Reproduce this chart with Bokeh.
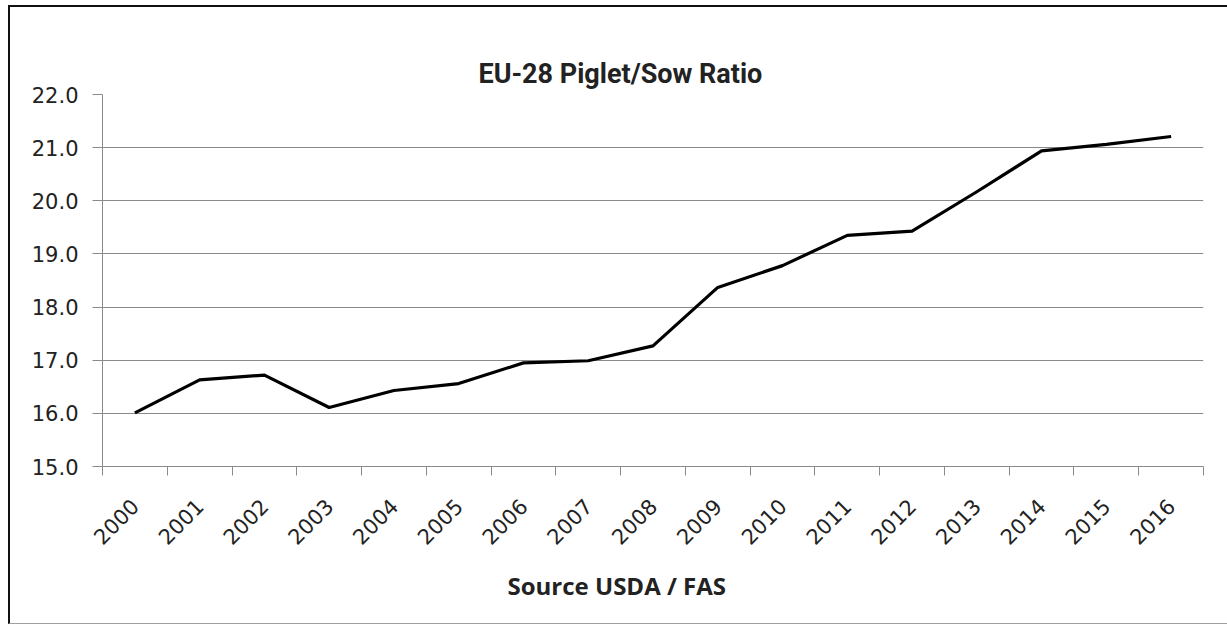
import math
from bokeh.plotting import figure
from bokeh.models import (Range1d, FixedTicker, NumeralTickFormatter, ColumnDataSource,
                          Title, LinearAxis)
from bokeh.embed import file_html
from bokeh.resources import INLINE

# ---- data ----
years = ["2000", "2001", "2002", "2003", "2004", "2005", "2006", "2007", "2008",
         "2009", "2010", "2011", "2012", "2013", "2014", "2015", "2016"]
ratio = [16.01, 16.63, 16.72, 16.11, 16.43, 16.56, 16.95, 16.99, 17.27,
         18.37, 18.78, 19.35, 19.43, 20.17, 20.94, 21.06, 21.21]
y_ticks = [15, 16, 17, 18, 19, 20, 21, 22]
title_text = "EU-28  Piglet/Sow Ratio"
x_title = "Source USDA / FAS"

# category positions (centres) and boundaries in index units
centers = [i + 0.5 for i in range(len(years))]
bounds = [float(i) for i in range(len(years) + 1)]

src = ColumnDataSource(data=dict(x=centers, y=ratio, year=years))

W, H = 1219, 619
p = figure(width=W, height=H, output_backend="svg", toolbar_location=None,
           x_range=Range1d(0, len(years)), y_range=Range1d(15, 22),
           min_border_left=92, min_border_right=26, min_border_top=87,
           min_border_bottom=160, title=None)
p.margin = (5, 0, 0, 8)
p.styles = {"border-left": "2px solid #111111", "border-top": "2px solid #111111",
            "border-bottom": "1px solid #a0a0a0"}
p.background_fill_color = "white"
p.border_fill_color = "white"
p.outline_line_color = None

grey = "#8a8a8a"

# keep references to the real axes before anything else is added
xa = p.below[0]
ya = p.left[0]

# invisible, tick-less axis next to the frame: a spacer that lifts the title
spacer = LinearAxis(ticker=FixedTicker(ticks=[]), axis_line_color=None,
                    major_tick_line_color=None, minor_tick_line_color=None,
                    major_tick_out=29, major_tick_in=0, minor_tick_out=0,
                    minor_tick_in=0, major_label_standoff=0)
p.add_layout(spacer, "above")

# chart title, centred on the whole chart
t = Title(text=title_text, align="left", offset=376, standoff=10,
          text_font="Roboto", text_font_style="bold", text_font_size="27px",
          text_color="#222222")
p.add_layout(t, "above")

# y axis
ya.ticker = FixedTicker(ticks=y_ticks)
ya.formatter = NumeralTickFormatter(format="0.0")
ya.axis_line_color = grey
ya.major_tick_line_color = grey
ya.major_tick_out = 10
ya.major_tick_in = 0
ya.minor_tick_line_color = None
ya.major_label_standoff = 14
ya.major_label_text_font = "DejaVu Sans"
ya.major_label_text_font_size = "21px"
ya.major_label_text_color = "#222222"

# x axis: labels at centres, tick marks at boundaries (minor)
xa.ticker = FixedTicker(ticks=centers, minor_ticks=bounds)
xa.major_label_overrides = {c: y for c, y in zip(centers, years)}
xa.axis_line_color = grey
xa.major_tick_line_color = None
xa.major_tick_out = 0
xa.major_tick_in = 0
xa.minor_tick_line_color = grey
xa.minor_tick_out = 9
xa.minor_tick_in = 0
xa.major_label_orientation = math.pi / 4
xa.major_label_standoff = 27
xa.major_label_text_font = "DejaVu Sans"
xa.major_label_text_font_size = "21px"
xa.major_label_text_color = "#222222"

# source note under the axis, centred on the whole chart
st = Title(text=x_title, align="left", offset=405, standoff=24,
           text_font="Open Sans", text_font_style="bold", text_font_size="24px",
           text_color="#222222")
p.add_layout(st, "below")

# grid
p.xgrid.grid_line_color = None
p.ygrid.ticker = FixedTicker(ticks=y_ticks)
p.ygrid.grid_line_color = grey
p.ygrid.grid_line_width = 1

# series line
p.line("x", "y", source=src, line_color="black", line_width=3.2, line_join="round")

open("out.html", "w").write(file_html(p, INLINE))
